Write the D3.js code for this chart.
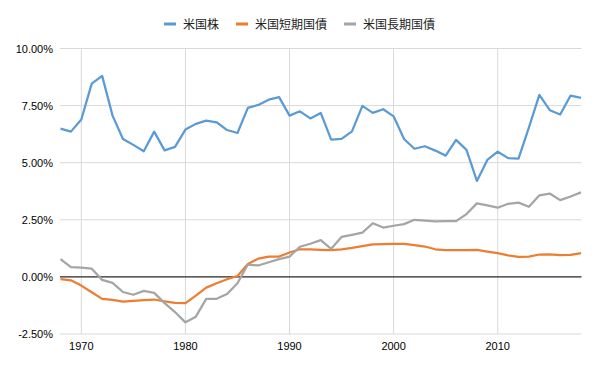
<!DOCTYPE html>
<html>
<head>
<meta charset="utf-8">
<script src="https://cdn.jsdelivr.net/npm/d3@7"></script>
<style>
body{margin:0;background:#fff;}
text{font-family:"Noto Sans CJK JP","Noto Sans",sans-serif;}
text.num{font-family:"Liberation Sans","Noto Sans",sans-serif;}
</style>
</head>
<body>
<svg id="chart" width="600" height="371"></svg>
<script>
// data (percent)
var years = d3.range(1968, 2019)
var stocks = [6.49,6.36,6.89,8.46,8.80,7.06,6.04,5.78,5.50,6.36,5.54,5.69,6.45,6.70,6.84,6.77,6.43,
  6.30,7.40,7.53,7.76,7.87,7.06,7.25,6.94,7.18,6.01,6.04,6.37,7.49,7.18,7.34,7.03,6.04,5.61,5.72,
  5.53,5.31,6.00,5.56,4.20,5.12,5.48,5.20,5.18,6.55,7.97,7.30,7.11,7.94,7.84]
var bills = [-0.10,-0.15,-0.38,-0.67,-0.96,-1.01,-1.08,-1.05,-1.02,-0.99,-1.07,-1.14,-1.15,-0.82,-0.47,-0.28,-0.10,
  0.04,0.56,0.80,0.89,0.89,1.07,1.21,1.20,1.18,1.17,1.21,1.27,1.35,1.42,1.43,1.45,1.45,1.39,1.33,
  1.21,1.17,1.17,1.17,1.18,1.11,1.04,0.94,0.88,0.89,0.98,0.99,0.95,0.96,1.04]
var bonds = [0.78,0.43,0.41,0.36,-0.13,-0.26,-0.66,-0.78,-0.61,-0.70,-1.15,-1.54,-1.99,-1.74,-0.96,-0.96,-0.75,
  -0.28,0.54,0.50,0.64,0.78,0.89,1.32,1.45,1.61,1.23,1.75,1.84,1.94,2.35,2.16,2.24,2.31,2.50,2.46,
  2.43,2.44,2.44,2.75,3.22,3.13,3.03,3.20,3.25,3.07,3.57,3.65,3.36,3.52,3.70]
var seriesNames = ["米国株","米国短期国債","米国長期国債"]
var seriesColors = ["#5b9bd5","#ed7d31","#a5a5a5"]
var yTicks = [-2.5,0,2.5,5,7.5,10]
var xTicks = [1970,1980,1990,2000,2010]

var svg = d3.select("svg#chart")

var x = d3.scaleLinear().domain([1968, 2018]).range([60.5, 581])
var y = d3.scaleLinear().domain([-2.5, 10]).range([334, 48.5])

// horizontal gridlines
svg.selectAll("line.hgrid")
  .data(yTicks).enter()
  .append("line")
  .attr("class","hgrid")
  .attr("x1", 60).attr("x2", 581.5)
  .attr("y1", function(d){ return y(d); })
  .attr("y2", function(d){ return y(d); })
  .attr("stroke", "#d9d9d9")
  .attr("stroke-width", 1);

// vertical gridlines
svg.selectAll("line.vgrid")
  .data(xTicks).enter()
  .append("line")
  .attr("class","vgrid")
  .attr("x1", function(d){ return x(d); })
  .attr("x2", function(d){ return x(d); })
  .attr("y1", y(10)).attr("y2", y(-2.5))
  .attr("stroke", "#d9d9d9")
  .attr("stroke-width", 1);

// zero line
svg.append("line")
  .attr("x1", 60).attr("x2", 581.5)
  .attr("y1", y(0)).attr("y2", y(0))
  .attr("stroke", "#000")
  .attr("stroke-width", 1);

// y labels
svg.selectAll("text.ylab")
  .data(yTicks).enter()
  .append("text")
  .attr("class","ylab num")
  .attr("x", 53)
  .attr("y", function(d){ return y(d) + 4; })
  .attr("text-anchor", "end")
  .attr("font-size", 11)
  .attr("fill", "#000")
  .text(function(d){ return d.toFixed(2) + "%"; });

// x labels
svg.selectAll("text.xlab")
  .data(xTicks).enter()
  .append("text")
  .attr("class","xlab num")
  .attr("x", function(d){ return x(d); })
  .attr("y", 349.5)
  .attr("text-anchor", "middle")
  .attr("font-size", 11)
  .attr("fill", "#000")
  .text(function(d){ return d; });

var line = d3.line()
  .x(function(d){ return x(d[0]); })
  .y(function(d){ return y(d[1]); });

[stocks, bills, bonds].forEach(function(vals, i){
  svg.append("path")
    .datum(years.map(function(yr, j){ return [yr, vals[j]]; }))
    .attr("fill", "none")
    .attr("stroke", seriesColors[i])
    .attr("stroke-width", 2.25)
    .attr("stroke-linejoin", "round")
    .attr("d", line);
});

// legend
var legendX = [164, 236, 344]
var legend = svg.selectAll("g.legend")
  .data(seriesNames).enter()
  .append("g")
  .attr("class","legend")
  .attr("transform", function(d, i){ return "translate(" + legendX[i] + ",24)"; });
legend.append("line")
  .attr("x1", 0).attr("x2", 12)
  .attr("y1", 0).attr("y2", 0)
  .attr("stroke", function(d, i){ return seriesColors[i]; })
  .attr("stroke-width", 3);
legend.append("text")
  .attr("x", 19)
  .attr("y", 4.5)
  .attr("font-size", 12)
  .attr("fill", "#222")
  .text(function(d){ return d; });
</script>
</body>
</html>
